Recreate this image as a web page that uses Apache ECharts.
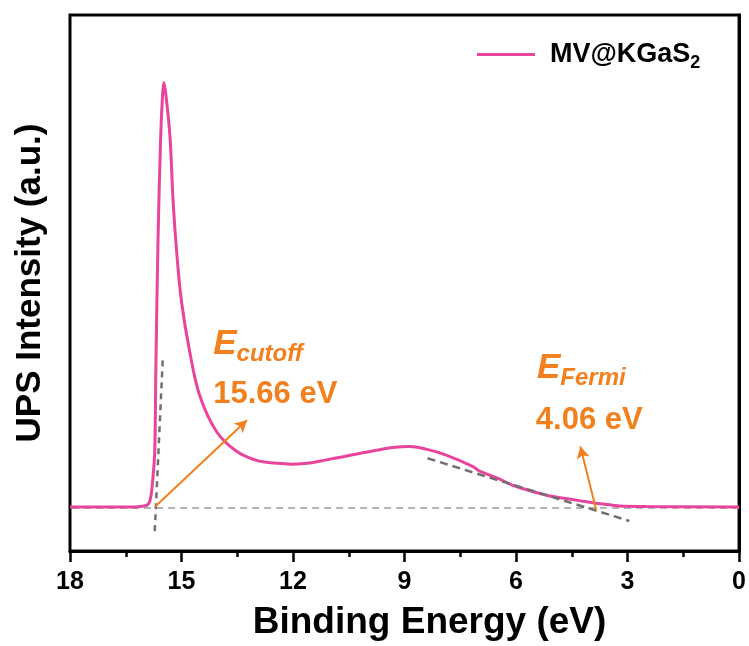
<!DOCTYPE html>
<html>
<head>
<meta charset="utf-8">
<script src="https://cdn.jsdelivr.net/npm/echarts@6/dist/echarts.min.js"></script>
<style>
  html, body { margin: 0; padding: 0; background: #fff; }
  #chart { width: 749px; height: 646px; }
</style>
</head>
<body>
<div id="chart"></div>
<script>
// UPS spectrum (binding energy in eV, ascending; intensity in a.u.)
const energy = [0, 2.5, 3.22, 3.41, 3.85, 4.3, 4.75, 5.18, 5.6, 6.1, 6.5, 6.98, 7.17, 7.88, 8.42,
  8.87, 9.32, 9.75, 10.21, 10.65, 11.1, 11.55, 12.01, 12.5, 12.98, 13.52, 14.06, 14.51, 14.78,
  15.0, 15.13, 15.225, 15.31, 15.42, 15.475, 15.51, 15.56, 15.63, 15.69, 15.72, 15.77, 15.82,
  15.9, 16.1, 16.4, 17, 18];
const intensity = [8.2, 8.3, 8.4, 8.55, 8.9, 9.4, 9.9, 10.4, 11.2, 12.3, 13.6, 14.9, 15.8, 17.9, 19.0,
  19.5, 19.3, 18.8, 18.2, 17.6, 17.0, 16.4, 16.2, 16.4, 16.9, 18.6, 22.3, 29.0, 37.2,
  46.5, 55.8, 65.1, 77.3, 85.1, 87.4, 85.1, 77.3, 58.7, 34.0, 18.6, 13.6, 10.4,
  8.7, 8.3, 8.2, 8.2, 8.2];

// fitted guide lines
const baseLine = [[0, 8.0], [18, 8.0]];
const cutoffTangent = [[15.72, 3.7], [15.5, 36.4]];
const fermiTangent = [[8.38, 17.3], [2.95, 5.6]];

// annotation arrows [from, to]
const cutoffArrow = [[15.72, 8.2], [13.24, 24.4]];
const fermiArrow = [[3.84, 7.6], [4.27, 19.5]];

const xTicks = { min: 0, max: 18, step: 3 };
const seriesName = 'MV@KGaS2';

const pink = '#E8449B';
const orange = '#F2801F';
const font = 'Arial, "Liberation Sans", sans-serif';

const chart = echarts.init(document.getElementById('chart'));

const note = (x, y, text) => ({
  value: [x, y],
  label: { formatter: text }
});

chart.setOption({
  animation: false,
  grid: {
    left: 70, right: 8, top: 15, bottom: 93,
    show: true, borderColor: '#000', borderWidth: 3
  },
  legend: {
    left: 472, top: 36,
    icon: 'rect',
    itemWidth: 58, itemHeight: 3,
    data: [seriesName],
    formatter: () => '{m|MV@KGaS}{s|2}',
    textStyle: {
      padding: [0, 0, 0, 10],
      rich: {
        m: { fontSize: 27, fontWeight: 'bold', fontFamily: font, color: '#000', lineHeight: 36 },
        s: { fontSize: 18, fontWeight: 'bold', fontFamily: font, color: '#000', lineHeight: 20, verticalAlign: 'bottom' }
      }
    }
  },
  xAxis: {
    type: 'value',
    inverse: true,
    min: xTicks.min, max: xTicks.max, interval: xTicks.step,
    name: 'Binding Energy (eV)',
    nameLocation: 'middle',
    nameGap: 53,
    nameTextStyle: { fontSize: 37, fontWeight: 'bold', fontFamily: font, color: '#000', padding: [0, 0, 0, 50] },
    axisLine: { lineStyle: { color: '#000', width: 3 } },
    axisTick: { inside: false, length: 11, lineStyle: { color: '#000', width: 2.5 } },
    minorTick: { show: true, splitNumber: 2, length: 6, lineStyle: { color: '#000', width: 2.5 } },
    axisLabel: { fontSize: 25, fontWeight: 'bold', fontFamily: font, color: '#000', margin: 19 },
    splitLine: { show: false }
  },
  yAxis: {
    type: 'value',
    min: 0, max: 100,
    name: 'UPS Intensity (a.u.)',
    nameLocation: 'middle',
    nameGap: 22,
    nameTextStyle: { fontSize: 35, fontWeight: 'bold', fontFamily: font, color: '#000' },
    axisLine: { show: true, lineStyle: { color: '#000', width: 3 } },
    axisTick: { show: false },
    axisLabel: { show: false },
    splitLine: { show: false }
  },
  series: [
    {
      name: 'baseline',
      type: 'line',
      data: baseLine,
      symbol: 'none',
      silent: true,
      lineStyle: { color: '#B5B5B5', width: 2, type: [7, 5] },
      z: 1
    },
    {
      name: 'cutoffTangent',
      type: 'line',
      data: cutoffTangent,
      symbol: 'none',
      silent: true,
      lineStyle: { color: '#707070', width: 2.5, type: [6, 5] },
      z: 1
    },
    {
      name: 'fermiTangent',
      type: 'line',
      data: fermiTangent,
      symbol: 'none',
      silent: true,
      lineStyle: { color: '#707070', width: 2.5, type: [8, 5] },
      z: 3
    },
    {
      name: seriesName,
      type: 'line',
      data: energy.map((e, i) => [e, intensity[i]]),
      symbol: 'none',
      smooth: 0.35,
      lineStyle: { color: pink, width: 3 },
      itemStyle: { color: pink },
      z: 2
    },
    {
      name: 'arrows',
      type: 'line',
      data: [],
      silent: true,
      markLine: {
        silent: true,
        symbol: ['none', 'arrow'],
        symbolSize: [10, 12],
        label: { show: false },
        lineStyle: { color: orange, width: 2, type: 'solid' },
        data: [
          [{ coord: cutoffArrow[0] }, { coord: cutoffArrow[1] }],
          [{ coord: fermiArrow[0] }, { coord: fermiArrow[1] }]
        ]
      }
    },
    {
      name: 'notes',
      type: 'scatter',
      silent: true,
      symbolSize: 1,
      itemStyle: { color: 'rgba(0,0,0,0)', opacity: 1 },
      label: {
        show: true,
        position: 'right',
        distance: 0,
        color: orange,
        fontFamily: font,
        rich: {
          e: { fontSize: 35, fontWeight: 'bold', fontStyle: 'italic', color: orange, fontFamily: font, lineHeight: 44 },
          c: { fontSize: 24, fontWeight: 'bold', fontStyle: 'italic', color: orange, fontFamily: font, lineHeight: 24, verticalAlign: 'bottom' },
          v: { fontSize: 31, fontWeight: 'bold', color: orange, fontFamily: font }
        }
      },
      data: [
        note(14.16, 38.5, '{e|E}{c|cutoff}'),
        note(14.16, 29.2, '{v|15.66 eV}'),
        note(5.45, 34.0, '{e|E}{c|Fermi}'),
        note(5.48, 24.4, '{v|4.06 eV}')
      ]
    }
  ]
});
</script>
</body>
</html>
